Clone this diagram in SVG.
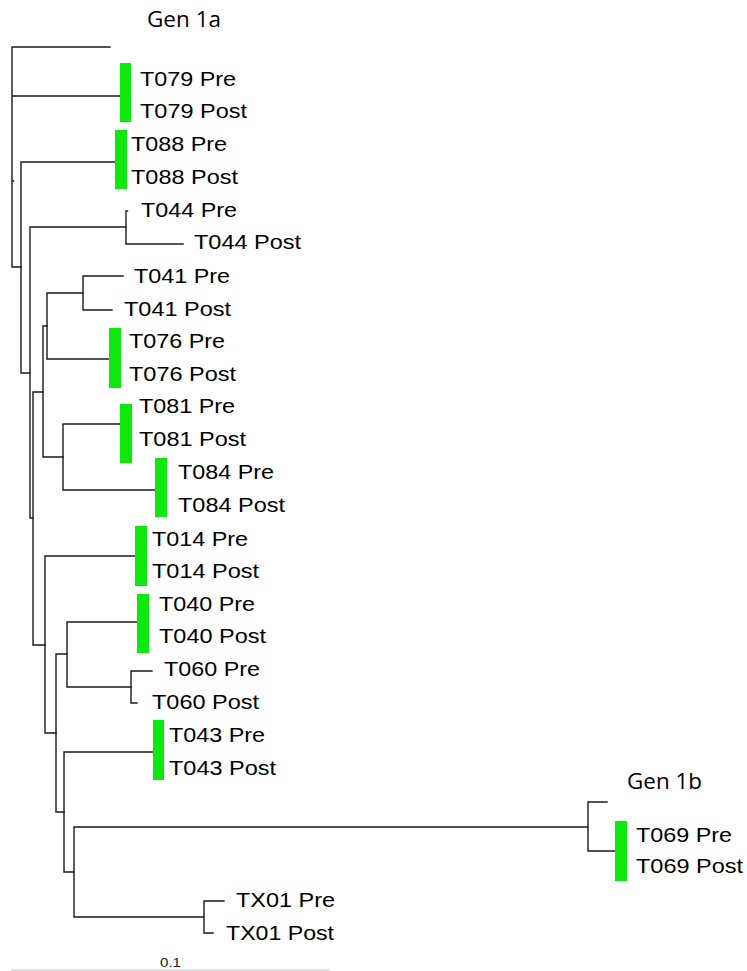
<svg xmlns="http://www.w3.org/2000/svg" width="747" height="971" viewBox="0 0 747 971">
<style>
.br{fill:none;stroke:#1a1a1a;stroke-width:1.4;stroke-linecap:square}
.hl{fill:#0de80d}
.lb{font-family:"Liberation Sans",Arial,sans-serif;font-size:20px;fill:#000}
.gen{font-family:"Open Sans","Liberation Sans",sans-serif;font-size:21px;fill:#000}
.sc{font-family:"Liberation Sans",Arial,sans-serif;font-size:12px;fill:#222}
</style>
<rect width="747" height="971" fill="#fff"/>
<g id="connectors">
<path class="br" d="M12,47V267M12,47H110M12,96H120M12,181H13.5M12,267H21"/>
<path class="br" d="M21,162V373M21,162H115M21,373H30"/>
<path class="br" d="M30,227V518M30,227H126M30,518H33"/>
<path class="br" d="M126,211V244M126,211H127.5M126,244H183"/>
<path class="br" d="M33,392V645M33,392H43M33,645H45"/>
<path class="br" d="M43,326V457M43,326H47M43,457H63"/>
<path class="br" d="M47,293V359M47,293H83M47,359H109"/>
<path class="br" d="M83,276V310M83,276H123M83,310H112"/>
<path class="br" d="M63,424V490M63,424H120M63,490H155"/>
<path class="br" d="M45,556V733M45,556H135M45,733H56"/>
<path class="br" d="M56,654V812M56,654H67M56,812H64"/>
<path class="br" d="M67,622V687M67,622H137M67,687H131"/>
<path class="br" d="M131,671V703M131,671H152M131,703H137"/>
<path class="br" d="M64,752V872M64,752H153M64,872H74"/>
<path class="br" d="M74,827V917M74,827H588M74,917H204"/>
<path class="br" d="M588,802V851M588,802H607M588,851H615"/>
<path class="br" d="M204,901V933M204,901H224M204,933H213"/>
</g>
<g id="highlights">
<rect class="hl" x="120" y="63" width="11" height="59"/>
<rect class="hl" x="115" y="130" width="12" height="59"/>
<rect class="hl" x="109" y="328" width="12" height="60"/>
<rect class="hl" x="120" y="404" width="12" height="59"/>
<rect class="hl" x="155" y="458" width="12" height="59"/>
<rect class="hl" x="135" y="526" width="12" height="60"/>
<rect class="hl" x="137" y="594" width="12" height="59"/>
<rect class="hl" x="153" y="720" width="11" height="60"/>
<rect class="hl" x="615" y="821" width="12" height="60"/>
</g>
<g id="gen1a"><text class="gen" x="147" y="27" textLength="74" lengthAdjust="spacingAndGlyphs">Gen 1a</text></g>
<g id="gen1b"><text class="gen" x="627" y="789" textLength="75" lengthAdjust="spacingAndGlyphs">Gen 1b</text></g>
<g id="T079Pre"><text class="lb" x="140" y="86" textLength="96" lengthAdjust="spacingAndGlyphs">T079 Pre</text></g>
<g id="T079Post"><text class="lb" x="140" y="118" textLength="107" lengthAdjust="spacingAndGlyphs">T079 Post</text></g>
<g id="T088Pre"><text class="lb" x="131" y="151" textLength="96" lengthAdjust="spacingAndGlyphs">T088 Pre</text></g>
<g id="T088Post"><text class="lb" x="131" y="184" textLength="107" lengthAdjust="spacingAndGlyphs">T088 Post</text></g>
<g id="T044Pre"><text class="lb" x="141" y="217" textLength="96" lengthAdjust="spacingAndGlyphs">T044 Pre</text></g>
<g id="T044Post"><text class="lb" x="194" y="249" textLength="107" lengthAdjust="spacingAndGlyphs">T044 Post</text></g>
<g id="T041Pre"><text class="lb" x="134" y="283" textLength="96" lengthAdjust="spacingAndGlyphs">T041 Pre</text></g>
<g id="T041Post"><text class="lb" x="124" y="316" textLength="107" lengthAdjust="spacingAndGlyphs">T041 Post</text></g>
<g id="T076Pre"><text class="lb" x="129" y="348" textLength="96" lengthAdjust="spacingAndGlyphs">T076 Pre</text></g>
<g id="T076Post"><text class="lb" x="129" y="381" textLength="107" lengthAdjust="spacingAndGlyphs">T076 Post</text></g>
<g id="T081Pre"><text class="lb" x="139" y="413" textLength="96" lengthAdjust="spacingAndGlyphs">T081 Pre</text></g>
<g id="T081Post"><text class="lb" x="139" y="446" textLength="107" lengthAdjust="spacingAndGlyphs">T081 Post</text></g>
<g id="T084Pre"><text class="lb" x="178" y="479" textLength="96" lengthAdjust="spacingAndGlyphs">T084 Pre</text></g>
<g id="T084Post"><text class="lb" x="178" y="512" textLength="107" lengthAdjust="spacingAndGlyphs">T084 Post</text></g>
<g id="T014Pre"><text class="lb" x="152" y="546" textLength="96" lengthAdjust="spacingAndGlyphs">T014 Pre</text></g>
<g id="T014Post"><text class="lb" x="152" y="578" textLength="107" lengthAdjust="spacingAndGlyphs">T014 Post</text></g>
<g id="T040Pre"><text class="lb" x="159" y="611" textLength="96" lengthAdjust="spacingAndGlyphs">T040 Pre</text></g>
<g id="T040Post"><text class="lb" x="159" y="643" textLength="107" lengthAdjust="spacingAndGlyphs">T040 Post</text></g>
<g id="T060Pre"><text class="lb" x="164" y="676" textLength="96" lengthAdjust="spacingAndGlyphs">T060 Pre</text></g>
<g id="T060Post"><text class="lb" x="152" y="709" textLength="107" lengthAdjust="spacingAndGlyphs">T060 Post</text></g>
<g id="T043Pre"><text class="lb" x="169" y="742" textLength="96" lengthAdjust="spacingAndGlyphs">T043 Pre</text></g>
<g id="T043Post"><text class="lb" x="169" y="775" textLength="107" lengthAdjust="spacingAndGlyphs">T043 Post</text></g>
<g id="T069Pre"><text class="lb" x="636" y="842" textLength="96" lengthAdjust="spacingAndGlyphs">T069 Pre</text></g>
<g id="T069Post"><text class="lb" x="636" y="873" textLength="107" lengthAdjust="spacingAndGlyphs">T069 Post</text></g>
<g id="TX01Pre"><text class="lb" x="236" y="907" textLength="99" lengthAdjust="spacingAndGlyphs">TX01 Pre</text></g>
<g id="TX01Post"><text class="lb" x="226" y="940" textLength="108" lengthAdjust="spacingAndGlyphs">TX01 Post</text></g>
<g id="scale">
<line x1="11" y1="970" x2="330" y2="970" stroke="#d8d8d8" stroke-width="1.5"/>
<text class="sc" x="160" y="967" textLength="21" lengthAdjust="spacingAndGlyphs">0.1</text>
</g>
</svg>
